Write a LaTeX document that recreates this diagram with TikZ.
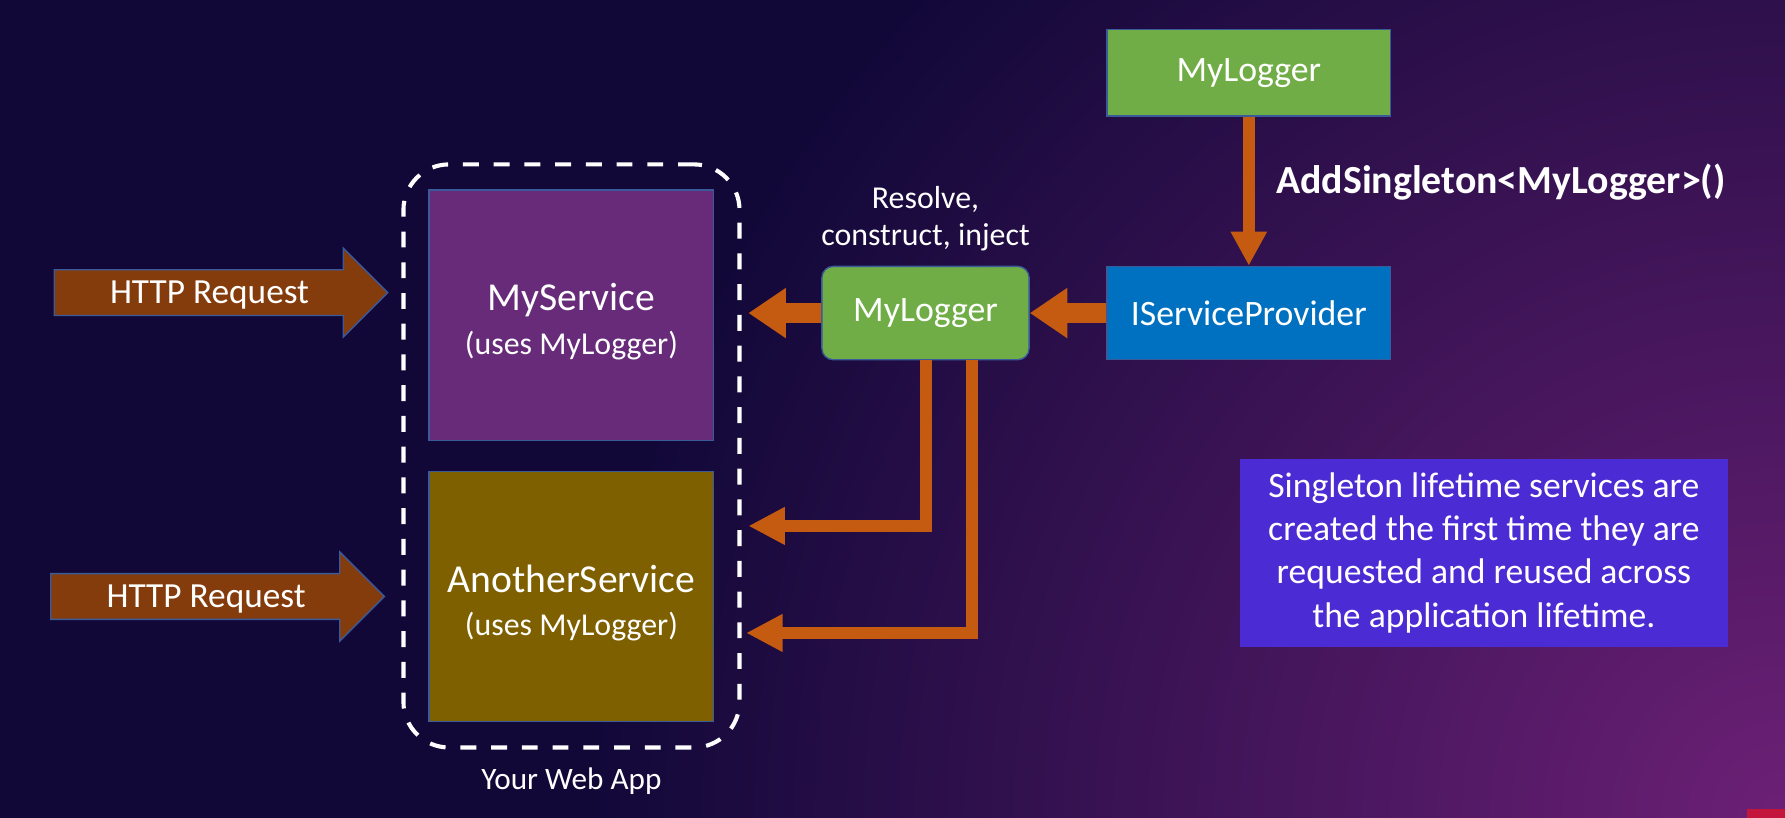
\documentclass[tikz,border=0pt]{standalone}
\usepackage{fontspec}
\setmainfont{Carlito}
\usetikzlibrary{positioning,fit,calc,shapes.arrows,arrows.meta}
\definecolor{bgnavy}{HTML}{110838}
\definecolor{bgpurple}{HTML}{6C2076}
\definecolor{edgeblue}{HTML}{3A5A9A}
\definecolor{loggreen}{HTML}{70AD47}
\definecolor{ispblue}{HTML}{0070C0}
\definecolor{svcpurple}{HTML}{672B7A}
\definecolor{svcolive}{HTML}{7F6000}
\definecolor{httpbrown}{HTML}{843C0C}
\definecolor{linkorange}{HTML}{C55A11}
\definecolor{noteviolet}{HTML}{4B2BD3}
\definecolor{barred}{HTML}{C4163C}

\begin{document}
\begin{tikzpicture}[x=0.5pt,y=-0.5pt,on grid,
		box/.style={rectangle,draw=edgeblue,line width=0.6pt,text=white,inner sep=0pt,font=\fontsize{15.7}{19}\selectfont},
		svc/.style={box,minimum width=125pt,minimum height=110pt,align=center,font=\fontsize{14}{19}\selectfont},
		http/.style={single arrow,fill=httpbrown,draw=edgeblue,line width=0.6pt,text=white,font=\fontsize{15.5}{18}\selectfont,
			single arrow head extend=9.5pt,single arrow tip angle=90,minimum height=146.5pt,inner xsep=4pt,inner ysep=0pt,
			text height=14.75pt,text depth=4.75pt},
		bigarrow/.style={draw=linkorange,line width=9pt,-{Triangle[width=21pt,length=16.5pt]}},
		thinarrow/.style={draw=linkorange,line width=5.25pt,-{Triangle[width=15.5pt,length=16pt]}},
		downarrow/.style={draw=linkorange,line width=5.3pt,-{Triangle[width=15pt,length=15pt]}}]
		\useasboundingbox (0,0) rectangle (1568,718);
		\fill[bgnavy] (-6,-6) rectangle (1574,724);
		\begin{scope}
			\clip (-6,-6) rectangle (1574,724);
			\shade[inner color=bgpurple,outer color=bgnavy] (1568,718) circle (1050);
		\end{scope}
		\fill[barred] (1535,711) rectangle (1574,724);
		
		\node[box,fill=ispblue,minimum width=124.5pt,minimum height=41pt] (isp) at (1097,275) {IServiceProvider};
		\node[box,fill=loggreen,minimum width=124.5pt,minimum height=38pt] (toplog) [above=105.5pt of isp] {MyLogger};
		\node[box,fill=loggreen,minimum width=91pt,minimum height=41pt,rounded corners=5pt] (mlog) [left=142pt of isp] {MyLogger};
		
		\node[svc,fill=svcpurple] (mysvc) at (502,277) {\rule{0pt}{17.5pt}{\fontsize{17.4}{19}\selectfont MyService}\\(uses MyLogger)};
		\node[svc,fill=svcolive] (another) [below=123.5pt of mysvc] {\rule{0pt}{17.5pt}{\fontsize{17.4}{19}\selectfont AnotherService}\\(uses MyLogger)};
		\node[draw=white,line width=1.8pt,dash pattern=on 7pt off 6.5pt,rounded corners=20pt,inner sep=11pt,fit=(mysvc)(another)] (webapp) {};
		\node[text=white,font=\fontsize{13.7}{16}\selectfont] (appname) [below=142.75pt of webapp] {Your Web App};
		
		\node[http,anchor=tail] (req1) at (47,257) {HTTP Request};
		\node[http,anchor=tail] (req2) at (44,524) {HTTP Request};
		
		\node[text=white,align=center,font=\fontsize{14}{16.5}\selectfont] (resolve) [above=41.5pt of mlog] {Resolve,\\construct, inject};
		\node[text=white,anchor=west,font=\bfseries\fontsize{17.5}{20}\selectfont] (addlbl) at (1114,160) {AddSingleton<MyLogger>()};
		
		\node[fill=noteviolet,text=white,minimum width=214.5pt,minimum height=82.5pt,align=center,
			font=\fontsize{15.65}{19}\selectfont] (note) at (1303.5,485.5)
			{Singleton lifetime services are\\created the first time they are\\requested and reused across\\the application lifetime.};
		
		\coordinate (in0) at ([xshift=3pt]webapp.east |- mlog);
		\coordinate (in1) at ([xshift=3pt]webapp.east |- 0,462);
		\coordinate (in2) at ([xshift=2pt]webapp.east |- 0,556);
		
		\draw[downarrow] (toplog.south) -- (isp.north);
		\draw[bigarrow] (isp.west) -- (mlog.east);
		\draw[bigarrow] (mlog.west) -- (in0);
		\draw[thinarrow] (mlog.south) |- (in1);
		\draw[thinarrow] ([xshift=20.5pt]mlog.south) |- (in2);
\end{tikzpicture}
\end{document}
